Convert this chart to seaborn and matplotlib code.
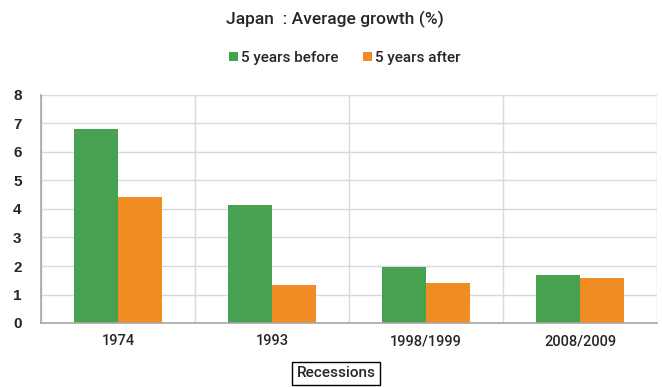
import matplotlib
matplotlib.use("Agg")
import matplotlib.pyplot as plt
from matplotlib.ticker import FixedLocator
import seaborn as sns
import pandas as pd

recessions = ["1974", "1993", "1998/1999", "2008/2009"]
before = [6.8, 4.15, 1.95, 1.68]
after = [4.42, 1.33, 1.4, 1.58]
series_names = ["5 years before", "5 years after"]
yticks = [0, 1, 2, 3, 4, 5, 6, 7, 8]

df = pd.DataFrame({
    "Recession": recessions * 2,
    "Growth": before + after,
    "Period": [series_names[0]] * len(recessions) + [series_names[1]] * len(recessions),
})

sns.set_theme(style="white")
plt.rcParams["font.family"] = ["Roboto", "DejaVu Sans"]

fig = plt.figure(figsize=(6.62, 3.87), dpi=100)
ax = fig.add_axes([41 / 662, 1 - 323 / 387, 616 / 662, 228 / 387])

sns.barplot(data=df, x="Recession", y="Growth", hue="Period",
            palette=["#46A151", "#F08C22"], width=0.57, saturation=1,
            linewidth=0, ax=ax, legend=True)

ax.set_ylim(0, 8)
ax.set_xlim(-0.5, 3.5)
ax.set_yticks(yticks)
ax.set_yticklabels([str(v) for v in yticks], fontsize=11, fontweight="bold",
                   family=["Liberation Sans", "DejaVu Sans"])
ax.tick_params(axis="y", length=0, pad=14)
ax.tick_params(axis="x", which="major", length=0, labelsize=10.5, pad=8)
for lbl in ax.get_xticklabels():
    lbl.set_fontweight(500)

# category separators: minor ticks + vertical grid
ax.xaxis.set_minor_locator(FixedLocator([-0.5, 0.5, 1.5, 2.5, 3.5]))
ax.tick_params(axis="x", which="minor", length=5, width=1, color="#999999", direction="out")
ax.grid(True, axis="y", which="major", color="#d9d9d9", linewidth=1)
ax.grid(True, axis="x", which="minor", color="#d9d9d9", linewidth=1)
ax.set_axisbelow(True)

for side in ["top", "right"]:
    ax.spines[side].set_visible(False)
for side in ["left", "bottom"]:
    ax.spines[side].set_color("#a6a6a6")
    ax.spines[side].set_linewidth(1.2)

ax.set_ylabel("")
ax.set_xlabel("Recessions", fontsize=11, fontweight=500,
              bbox=dict(boxstyle="square,pad=0.3", facecolor="white", edgecolor="black", linewidth=1))
ax.xaxis.set_label_coords(0.479, -0.22)
ax.xaxis.label.set_va("center")

leg = ax.legend(loc="center", bbox_to_anchor=(345 / 662, 1 - 58 / 387), bbox_transform=fig.transFigure,
                ncol=2, frameon=False, fontsize=11, handlelength=0.6, handleheight=0.6,
                handletextpad=0.2, columnspacing=1.6)
for t in leg.get_texts():
    t.set_fontweight(500)

fig.text(335 / 662, 1 - 19 / 387, "Japan  : Average growth (%)", ha="center", va="center",
         fontsize=12.5, fontweight=500)

fig.savefig("out.png", dpi=100)
